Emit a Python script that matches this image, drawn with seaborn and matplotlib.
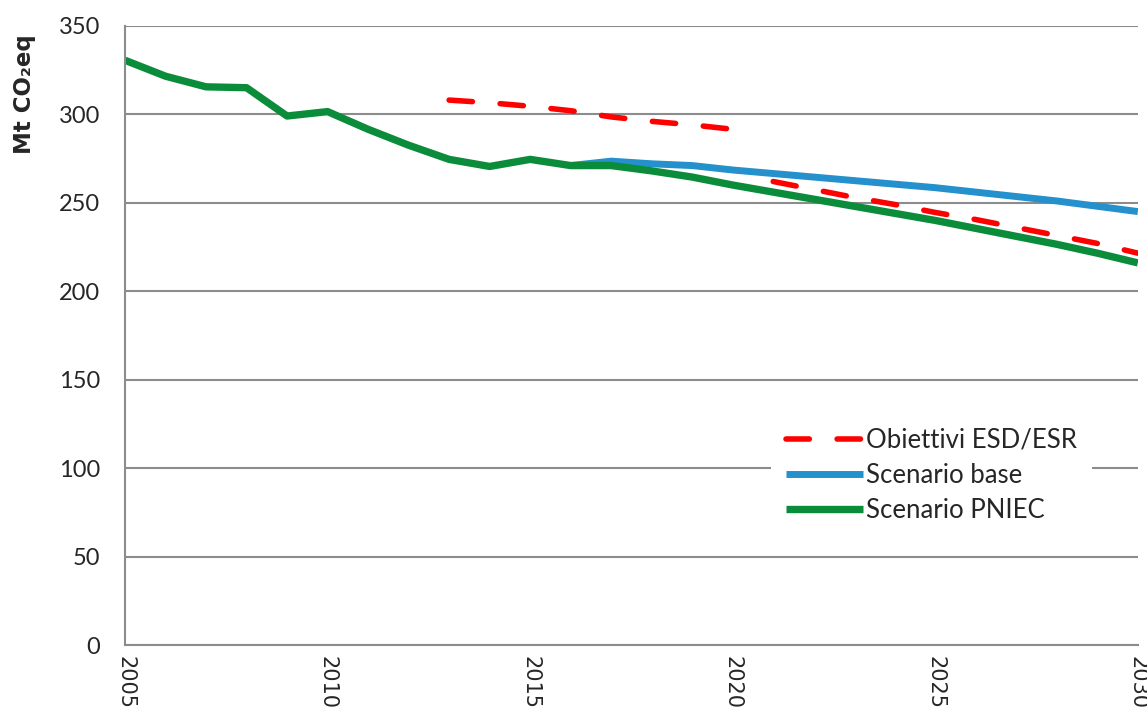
import matplotlib
matplotlib.use("Agg")
import matplotlib.pyplot as plt
import pandas as pd
import seaborn as sns

years = list(range(2005, 2031))

# Scenario PNIEC (historical + projection)
pniec = [330.5, 321.5, 315.5, 315.0, 299.0, 301.5, 291.5, 282.5, 274.5, 270.5,
         274.5, 271.0, 271.0, 268.0, 264.5, 260.0, 256.0, 252.0, 248.0, 244.0,
         240.0, 235.5, 231.0, 226.5, 221.5, 216.0]

# Scenario base (diverges from 2016)
base_years = list(range(2016, 2031))
base = [271.0, 273.5, 272.0, 271.0, 268.5, 266.5, 264.5, 262.5, 260.5, 258.5,
        256.0, 253.5, 251.0, 248.0, 245.0]

# Obiettivi ESD / ESR
esd_years = list(range(2013, 2021))
esd = [308.0, 306.5, 304.5, 302.0, 298.5, 296.0, 294.0, 291.5]
esr_years = list(range(2021, 2031))
esr = [262.0, 257.5, 253.0, 249.0, 244.5, 240.5, 236.0, 231.5, 227.0, 221.5]

y_ticks = [0, 50, 100, 150, 200, 250, 300, 350]
x_ticks = [2005, 2010, 2015, 2020, 2025, 2030]

df_pniec = pd.DataFrame({"anno": years, "valore": pniec})
df_base = pd.DataFrame({"anno": base_years, "valore": base})
df_esd = pd.DataFrame({"anno": esd_years, "valore": esd})
df_esr = pd.DataFrame({"anno": esr_years, "valore": esr})

sns.set_style("white")
plt.rcParams["font.family"] = ["Lato", "DejaVu Sans"]

fig, ax = plt.subplots(figsize=(11.47, 7.16), dpi=100)
fig.subplots_adjust(left=0.109, right=0.992, top=0.964, bottom=0.099)

green = "#0b8c3b"
blue = "#2490cc"
red = "#ff0000"

sns.lineplot(data=df_base, x="anno", y="valore", ax=ax, color=blue,
             linewidth=5, label="Scenario base", solid_capstyle="butt")
sns.lineplot(data=df_pniec, x="anno", y="valore", ax=ax, color=green,
             linewidth=5.3, label="Scenario PNIEC", solid_capstyle="butt")
sns.lineplot(data=df_esd, x="anno", y="valore", ax=ax, color=red,
             linewidth=4, label="Obiettivi ESD/ESR", dashes=False)
sns.lineplot(data=df_esr, x="anno", y="valore", ax=ax, color=red,
             linewidth=4, dashes=False)
for line in ax.lines[2:]:
    line.set_dashes([4.2, 5.0])
    line.set_dash_capstyle("round")

ax.set_xlim(2005, 2030)
ax.set_ylim(0, 350)
ax.set_xticks(x_ticks)
ax.set_xticklabels([str(x) for x in x_ticks], rotation=-90, fontsize=15,
                   family="DejaVu Sans")
ax.set_yticks(y_ticks)
ax.set_yticklabels([str(y) for y in y_ticks], fontsize=17)
ax.tick_params(length=0, pad=8)
ax.tick_params(axis="y", pad=18)

ax.set_xlabel("")
ax.set_ylabel("Mt CO₂eq", fontsize=16.5, fontweight="bold",
              family=["DejaVu Sans"])
ax.yaxis.set_label_coords(-0.088, 0.89)

ax.yaxis.grid(True, color="#8c8c8c", linewidth=1.5)
ax.xaxis.grid(False)
for side in ["top", "right"]:
    ax.spines[side].set_visible(False)
for side in ["left", "bottom"]:
    ax.spines[side].set_color("#8c8c8c")
    ax.spines[side].set_linewidth(1.5)

handles, labels = ax.get_legend_handles_labels()
order = [labels.index("Obiettivi ESD/ESR"), labels.index("Scenario base"),
         labels.index("Scenario PNIEC")]
leg = ax.legend([handles[i] for i in order], [labels[i] for i in order],
                loc="upper left", bbox_to_anchor=(0.625, 0.397), fontsize=18.5,
                handlelength=3.0, handletextpad=0.1, labelspacing=0.4,
                frameon=True, facecolor="white", edgecolor="none",
                framealpha=1, borderpad=0.6)

fig.savefig("out.png", dpi=100)
